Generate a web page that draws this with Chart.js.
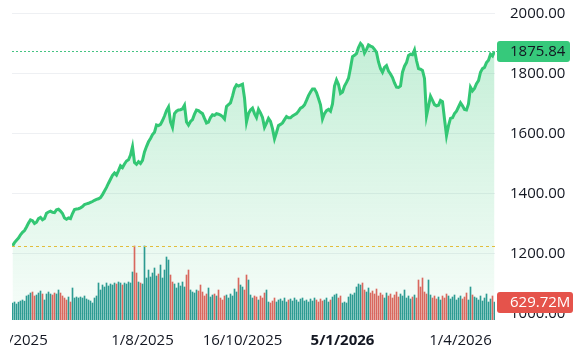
<!DOCTYPE html>
<html>
<head>
<meta charset="utf-8">
<script src="https://cdn.jsdelivr.net/npm/chart.js@4.4.1/dist/chart.umd.min.js"></script>
<style>
    html, body { margin: 0; padding: 0; background: #fff; }
    canvas { display: block; }
</style>
</head>
<body>
<canvas id="stockChart" width="582" height="354"></canvas>
<script>
// daily close, one value per trading day
const prices = [
    1227, 1238, 1246, 1253, 1264, 1272, 1278, 1290, 1303, 1314,
    1311, 1302, 1306, 1318, 1322, 1314, 1318, 1336, 1340, 1343,
    1339, 1338, 1347, 1349, 1343, 1335, 1320, 1316, 1320, 1318,
    1335, 1348, 1350, 1351, 1354, 1358, 1365, 1367, 1369, 1372,
    1375, 1379, 1382, 1384, 1388, 1398, 1410, 1422, 1436, 1449,
    1462, 1470, 1463, 1478, 1494, 1488, 1500, 1510, 1514, 1530,
    1558, 1505, 1499, 1508, 1502, 1512, 1540, 1558, 1574, 1585,
    1598, 1606, 1630, 1628, 1632, 1645, 1660, 1678, 1690, 1640,
    1622, 1668, 1676, 1680, 1681, 1684, 1696, 1640, 1630, 1642,
    1648, 1666, 1680, 1678, 1672, 1668, 1652, 1637, 1640, 1655,
    1664, 1662, 1668, 1666, 1663, 1658, 1650, 1692, 1698, 1704,
    1726, 1752, 1764, 1760, 1763, 1766, 1720, 1640, 1668, 1680,
    1686, 1668, 1655, 1682, 1670, 1655, 1622, 1636, 1652, 1642,
    1618, 1584, 1605, 1628, 1632, 1637, 1648, 1658, 1654, 1654,
    1660, 1664, 1668, 1676, 1686, 1690, 1697, 1712, 1728, 1740,
    1750, 1750, 1738, 1718, 1697, 1650, 1668, 1678, 1682, 1676,
    1700, 1760, 1780, 1765, 1735, 1740, 1760, 1772, 1786, 1820,
    1858, 1862, 1868, 1888, 1902, 1894, 1870, 1882, 1897, 1893,
    1890, 1882, 1872, 1840, 1818, 1806, 1822, 1828, 1810, 1800,
    1788, 1770, 1756, 1755, 1760, 1806, 1826, 1838, 1862, 1866,
    1864, 1880, 1845, 1818, 1816, 1812, 1785, 1660, 1692, 1726,
    1712, 1698, 1694, 1696, 1712, 1708, 1650, 1595, 1628, 1652,
    1654, 1668, 1676, 1690, 1704, 1694, 1682, 1680, 1700, 1756,
    1744, 1752, 1768, 1778, 1806, 1818, 1822, 1838, 1846, 1866,
    1860, 1875.84
];

// volume in millions
const volumes = [
    595, 630, 560, 625, 665, 700, 660, 840, 875, 945,
    980, 840, 875, 945, 1015, 910, 700, 910, 980, 910,
    875, 945, 910, 1050, 945, 840, 770, 700, 805, 630,
    1120, 770, 805, 770, 805, 770, 840, 735, 700, 665,
    595, 770, 840, 1295, 1050, 1225, 1155, 1295, 1190, 1260,
    1225, 1295, 1260, 1330, 1295, 1225, 1295, 1260, 1330, 1295,
    1680, 2590, 1645, 1330, 1295, 1260, 2590, 1470, 1750, 1505,
    1645, 1820, 1540, 1610, 1925, 1470, 1750, 2205, 2100, 1575,
    1330, 1260, 1120, 1295, 1190, 1330, 1155, 1575, 1750, 1050,
    980, 945, 1050, 1015, 1225, 980, 840, 910, 1120, 805,
    875, 910, 840, 1050, 770, 700, 840, 875, 770, 910,
    840, 1085, 980, 1470, 1225, 1155, 1050, 1575, 1400, 875,
    770, 840, 805, 700, 840, 770, 945, 1050, 630, 595,
    665, 770, 630, 700, 735, 665, 770, 630, 700, 735,
    665, 770, 700, 630, 735, 770, 665, 700, 630, 735,
    665, 770, 700, 630, 735, 665, 700, 770, 630, 700,
    805, 875, 910, 770, 840, 595, 630, 595, 805, 910,
    875, 945, 1155, 1260, 1225, 1295, 1050, 980, 1120, 945,
    1015, 910, 1085, 840, 945, 875, 770, 945, 840, 910,
    770, 875, 980, 805, 910, 840, 1050, 770, 840, 735,
    805, 875, 770, 1400, 1155, 1470, 980, 910, 1400, 875,
    770, 840, 735, 805, 700, 840, 770, 910, 840, 735,
    805, 875, 700, 770, 840, 735, 805, 945, 700, 1155,
    875, 805, 770, 700, 840, 665, 770, 910, 630, 735,
    840, 629.72
];

const tickIndex = [2, 65, 115, 165, 224];
const tickLabels = ["1/5/2025", "1/8/2025", "16/10/2025", "5/1/2026", "1/4/2026"];
const tickBold = [false, false, false, true, false];
const priceTicks = [1000, 1200, 1400, 1600, 1800, 2000];
const startLevel = prices[0];
const lastPrice = prices[prices.length - 1];
const lastVolume = volumes[volumes.length - 1];

const FONT = "'Open Sans', sans-serif";
const TEXT = "#131722";
const GREEN = "#33c774";

const upColor = "rgba(34,150,140,0.95)";
const downColor = "rgba(214,88,78,0.9)";
const barColors = volumes.map((v, i) => (i === 0 || prices[i] >= prices[i - 1]) ? upColor : downColor);

const overlay = {
    id: "overlay",
    afterDatasetsDraw(chart) {
        const { ctx, chartArea: a, scales } = chart;
        ctx.save();
        ctx.lineWidth = 1;
        // start of range level
        let py = Math.round(scales.y.getPixelForValue(startLevel)) + 0.5;
        ctx.strokeStyle = "#e2bd3c";
        ctx.setLineDash([3, 3]);
        ctx.beginPath(); ctx.moveTo(a.left, py); ctx.lineTo(a.right, py); ctx.stroke();
        // last price level
        py = Math.round(scales.y.getPixelForValue(lastPrice)) + 0.5;
        ctx.strokeStyle = "#45c483";
        ctx.setLineDash([2, 2]);
        ctx.beginPath(); ctx.moveTo(a.left, py); ctx.lineTo(a.right + 2, py); ctx.stroke();
        ctx.restore();
    },
    afterDraw(chart) {
        const { ctx, chartArea: a, scales } = chart;
        function tag(yc, text, w, bg, fg) {
            ctx.save();
            ctx.fillStyle = bg;
            ctx.beginPath();
            ctx.roundRect(a.right + 2, Math.round(yc) - 10, w, 21, 3);
            ctx.fill();
            ctx.fillStyle = fg;
            ctx.font = "15px " + FONT;
            ctx.textAlign = "left";
            ctx.textBaseline = "middle";
            ctx.fillText(text, a.right + 15, Math.round(yc) + 1);
            ctx.restore();
        }
        tag(scales.y.getPixelForValue(lastPrice), lastPrice.toFixed(2), 73, "#36c97b", TEXT);
        tag(scales.vol.getPixelForValue(lastVolume), lastVolume.toFixed(2) + "M", 76, "#e5534b", "#ffffff");
        // the first date label is cut off at the left edge, as in the source crop
        ctx.save();
        ctx.fillStyle = "#ffffff";
        ctx.fillRect(0, a.bottom + 2, 10, 354 - a.bottom);
        ctx.restore();
    }
};

const ctx = document.getElementById("stockChart").getContext("2d");

new Chart(ctx, {
    type: "bar",
    data: {
        datasets: [
            {
                type: "line",
                data: prices.map((v, i) => ({ x: i, y: v })),
                borderColor: GREEN,
                borderWidth: 3,
                pointRadius: 0,
                tension: 0,
                fill: "start",
                backgroundColor: (c) => {
                    const area = c.chart.chartArea;
                    if (!area) return "rgba(51,199,116,0.15)";
                    const g = c.chart.ctx.createLinearGradient(0, area.top, 0, area.bottom);
                    g.addColorStop(0, "rgba(51,199,116,0.32)");
                    g.addColorStop(1, "rgba(51,199,116,0.04)");
                    return g;
                },
                yAxisID: "y",
                order: 2
            },
            {
                type: "bar",
                data: volumes.map((v, i) => ({ x: i, y: v })),
                backgroundColor: barColors,
                barThickness: 1,
                yAxisID: "vol",
                order: 1
            }
        ]
    },
    options: {
        responsive: false,
        animation: false,
        layout: { padding: { left: 12, top: 4, right: 0, bottom: 0 } },
        plugins: { legend: { display: false }, tooltip: { enabled: false } },
        scales: {
            x: {
                type: "linear",
                min: -0.25,
                max: 241.25,
                offset: false,
                grid: { display: false },
                border: { display: false },
                afterBuildTicks: (axis) => { axis.ticks = tickIndex.map((v) => ({ value: v })); },
                afterFit: (axis) => { axis.height = 34; axis.paddingLeft = 0; axis.paddingRight = 0; },
                ticks: {
                    autoSkip: false,
                    maxRotation: 0,
                    padding: 4,
                    color: TEXT,
                    font: (c) => ({ family: FONT, size: 15, weight: tickBold[c.index] ? "bold" : "normal" }),
                    callback: (v, i) => tickLabels[i]
                }
            },
            y: {
                position: "right",
                min: 980,
                max: 2033.33,
                grid: { color: "#eef0f3", drawTicks: false },
                border: { display: false },
                afterBuildTicks: (axis) => { axis.ticks = priceTicks.map((v) => ({ value: v })); },
                afterFit: (axis) => { axis.width = 87; axis.paddingTop = 0; axis.paddingBottom = 0; },
                ticks: {
                    padding: 15,
                    color: TEXT,
                    font: { family: FONT, size: 15 },
                    callback: (v) => Number(v).toFixed(2)
                }
            },
            vol: {
                display: false,
                min: 0,
                max: 11060
            }
        }
    },
    plugins: [overlay]
});
</script>
</body>
</html>
